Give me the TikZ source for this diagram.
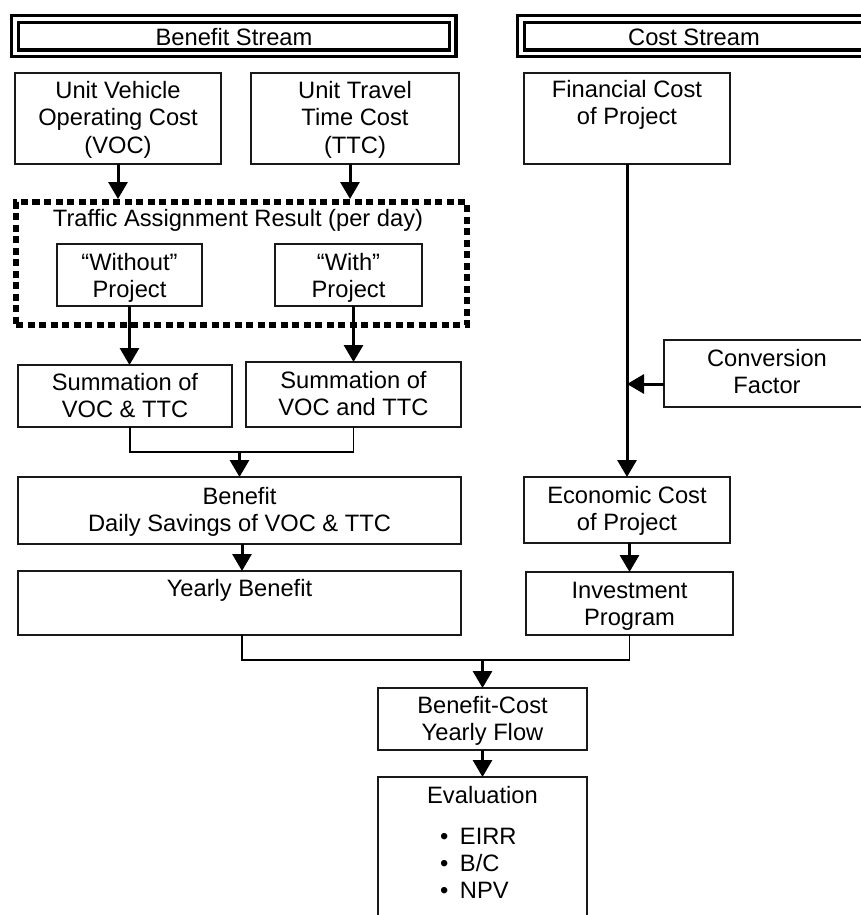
\documentclass[tikz,border=0pt]{standalone}
\usepackage{fontspec}
\setmainfont{Liberation Sans}
\usetikzlibrary{arrows.meta}
\newcommand\evbullet{\makebox[20pt][l]{•}}
\begin{document}
\begin{tikzpicture}[x=1pt,y=-1pt,
  box/.style={draw=black!90, line width=1.8pt, inner sep=0pt, outer sep=0pt, anchor=north west},
  txt/.style={inner sep=0pt, outer sep=0pt, anchor=north, align=center,
              font=\fontsize{23.7}{27.3}\selectfont},
  header/.style={draw, line width=3.4pt, double, double distance=3.2pt,
                 inner sep=0pt, outer sep=0pt, anchor=north west},
  tarbox/.style={draw, line width=6pt, dash pattern=on 7pt off 4.5pt,
                 inner sep=0pt, outer sep=3pt, anchor=north west},
  flow/.style={line width=3pt, -{Triangle[length=17pt,width=19pt]}},
  joinline/.style={line width=1.8pt}]

\useasboundingbox (0,0) rectangle (861,915);
\clip (0,0) rectangle (861,915);
\fill[white] (0,0) rectangle (861,915);

% stream headers
\node[header, minimum width=437.5pt, minimum height=34.5pt] (hdrB) at (15,19) {};
\node[header, minimum width=345pt, minimum height=34.5pt] (hdrC) at (521,19) {};
\node[txt] (hdrBt) at (234,26.4) {\strut Benefit Stream};
\node[txt] (hdrCt) at (694,26.4) {\strut Cost Stream};

% benefit stream
\node[box, minimum width=206pt, minimum height=91pt] (voc) at (15,73) {};
\node[txt] (voct) at (118,79.4) {\strut Unit Vehicle\\Operating Cost\\(VOC)};
\node[box, minimum width=208pt, minimum height=91pt] (ttc) at (251,73) {};
\node[txt] (ttct) at (355,79.4) {\strut Unit Travel\\Time Cost\\(TTC)};

\node[tarbox, minimum width=450.5pt, minimum height=123pt] (tar) at (13,199) {};
\node[txt] (tart) at (238,207.4) {\strut Traffic Assignment Result (per day)};
\node[box, minimum width=145pt, minimum height=62pt] (wo) at (57,244) {};
\node[txt] (wot) at (129.5,251.4) {\strut “Without”\\Project};
\node[box, minimum width=147pt, minimum height=62pt] (wi) at (275,244) {};
\node[txt] (wit) at (348.5,251.4) {\strut “With”\\Project};

\node[box, minimum width=214pt, minimum height=62pt] (sumA) at (18,365) {};
\node[txt] (sumAt) at (125,371) {\strut Summation of\\VOC \& TTC};
\node[box, minimum width=215pt, minimum height=65pt] (sumB) at (246,362) {};
\node[txt] (sumBt) at (353.5,369.4) {\strut Summation of\\VOC and TTC};

\node[box, minimum width=443pt, minimum height=67pt] (ben) at (18,477) {};
\node[txt] (bent) at (239.5,485.4) {\strut Benefit\\Daily Savings of VOC \& TTC};
\node[box, minimum width=443pt, minimum height=64pt] (yearly) at (18,571) {};
\node[txt] (yearlyt) at (239.5,577.4) {\strut Yearly Benefit};

% cost stream
\node[box, minimum width=206pt, minimum height=91pt] (fin) at (524,73) {};
\node[txt] (fint) at (627,78.4) {\strut Financial Cost\\of Project};
\node[box, minimum width=216pt, minimum height=67pt] (conv) at (664,340) {};
\node[txt] (convt) at (767,347.4) {\strut Conversion\\Factor};
\node[box, minimum width=206pt, minimum height=66pt] (econ) at (524,477) {};
\node[txt] (econt) at (627,484.4) {\strut Economic Cost\\of Project};
\node[box, minimum width=207pt, minimum height=63pt] (inv) at (526,572) {};
\node[txt] (invt) at (629.5,579.1) {\strut Investment\\Program};

% combined result
\node[box, minimum width=209pt, minimum height=62pt] (bc) at (378,688) {};
\node[txt] (bct) at (482.5,694.4) {\strut Benefit-Cost\\Yearly Flow};
\node[box, minimum width=209pt, minimum height=163pt] (eval) at (378,777) {};
\node[txt] (evalt) at (482.5,784.4) {\strut Evaluation};
\node[txt, anchor=north west, align=left] (evall) at (440,825.2)
  {\strut\evbullet EIRR\\\evbullet B/C\\\evbullet NPV};

% connectors
\draw[flow] (voc.south) -- (voc.south |- tar.north);
\draw[flow] ([xshift=-5pt]ttc.south) -- ([xshift=-5pt]ttc.south |- tar.north);
\draw[flow] (wo.south) -- (wo.south |- sumA.north);
\draw[flow] (wi.south -| sumB.north) -- (sumB.north);
\draw[joinline] ([xshift=5pt]sumA.south) -- ++(0,25) -| (sumB.south);
\path (ben.north) ++(0,-25) coordinate (jA);
\draw[flow] (jA) -- (ben.north);
\draw[flow] ([xshift=2.5pt]ben.south) -- ([xshift=2.5pt]yearly.north);
\draw[joinline] ([xshift=2.5pt]yearly.south) -- ++(0,25) -| (inv.south);
\path (bc.north) ++(0,-28) coordinate (jB);
\draw[flow] (jB) -- (bc.north);
\draw[flow] (bc.south) -- (eval.north);
\draw[flow] (fin.south) -- (econ.north);
\draw[flow] ([yshift=-10.5pt]conv.west) -- ([yshift=-10.5pt]conv.west -| fin.south);
\draw[flow] (econ.south -| inv.north) -- (inv.north);
\end{tikzpicture}
\end{document}
